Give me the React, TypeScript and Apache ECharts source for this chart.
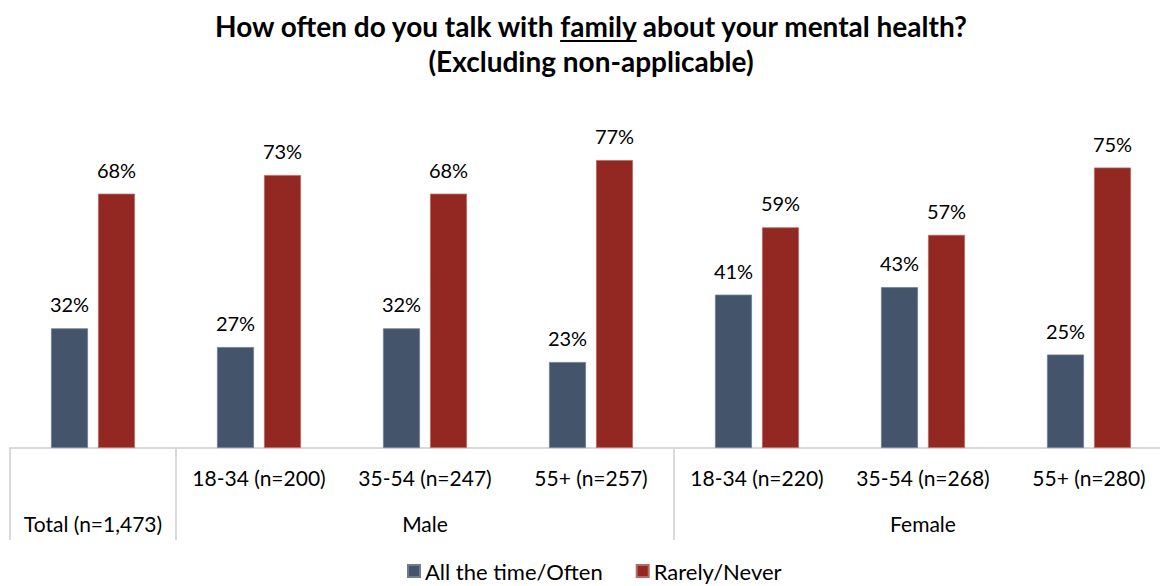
import React, { useEffect, useRef } from "react";
import * as echarts from "echarts";

const subLabels = ["", "18-34 (n=200)", "35-54 (n=247)", "55+ (n=257)", "18-34 (n=220)", "35-54 (n=268)", "55+ (n=280)"];
const groupNames = ["Total (n=1,473)", "Male", "Female"];
const groupSpans = [1, 3, 3];
const often = [32, 27, 32, 23, 41, 43, 25];
const rarely = [68, 73, 68, 77, 59, 57, 75];
const seriesNames = ["All the time/Often", "Rarely/Never"];

const FONT = "Lato";
const TITLE_PRE = "How often do you talk with ";
const TITLE_U = "family";
const TITLE_POST = " about your mental health?";
const TITLE2 = "(Excluding non-applicable)";

export default function App() {
  const ref = useRef<HTMLDivElement>(null);
  useEffect(() => {
    if (!ref.current) return;
    const chart = echarts.init(ref.current, null, { renderer: "svg" });

    const titleSize = 28;
    const cx = 591;
    const ctx = document.createElement("canvas").getContext("2d")!;
    ctx.font = `bold ${titleSize}px ${FONT}`;
    const wPre = ctx.measureText(TITLE_PRE).width;
    const wU = ctx.measureText(TITLE_U).width;
    const wPost = ctx.measureText(TITLE_POST).width;
    const total = wPre + wU + wPost;
    const x0 = cx - total / 2;
    const uX1 = x0 + wPre;
    const uX2 = uX1 + wU;

    const boundaries: number[] = [0];
    const centers: number[] = [];
    let acc = 0;
    groupSpans.forEach((s) => {
      centers.push(acc + s / 2);
      acc += s;
      boundaries.push(acc);
    });

    const axisLabelStyle = { fontFamily: FONT, fontSize: 21, color: "#000" };
    const dataLabelStyle = { fontFamily: FONT, fontSize: 20, color: "#000" };

    chart.setOption({
      animation: false,
      textStyle: { fontFamily: FONT },
      color: ["#44546A", "#922821"],
      graphic: [
        {
          type: "text",
          x: cx,
          y: 26,
          style: {
            text: TITLE_PRE + TITLE_U + TITLE_POST,
            font: `bold ${titleSize}px ${FONT}`,
            fill: "#000",
            textAlign: "center",
            textVerticalAlign: "middle",
          },
        },
        {
          type: "line",
          shape: { x1: uX1, y1: 41, x2: uX2, y2: 41 },
          style: { stroke: "#000", lineWidth: 2 },
        },
        {
          type: "text",
          x: cx,
          y: 61,
          style: {
            text: TITLE2,
            font: `bold ${titleSize}px ${FONT}`,
            fill: "#000",
            textAlign: "center",
            textVerticalAlign: "middle",
          },
        },
      ],
      legend: {
        left: 402,
        top: 555,
        itemWidth: 12,
        itemHeight: 12,
        itemGap: 33,
        icon: "rect",
        textStyle: { fontFamily: FONT, fontSize: 22, color: "#000", lineHeight: 22 },
        data: seriesNames,
      },
      grid: { left: 10, top: 74, width: 1162, height: 374, outerBoundsMode: "none", containLabel: false },
      xAxis: [
        {
          type: "category",
          data: subLabels,
          axisLine: { lineStyle: { color: "#d9d9d9", width: 2 } },
          axisTick: { show: false },
          axisLabel: { ...axisLabelStyle, margin: 19, interval: 0 },
        },
        {
          type: "value",
          min: 0,
          max: subLabels.length,
          position: "bottom",
          axisLine: { show: false },
          splitLine: { show: false },
          axisTick: {
            show: true,
            customValues: boundaries,
            length: 92,
            lineStyle: { color: "#d9d9d9", width: 2 },
          },
          axisLabel: {
            ...axisLabelStyle,
            margin: 65,
            customValues: centers,
            formatter: (v: number) => {
              const i = centers.findIndex((c) => Math.abs(c - v) < 1e-6);
              return i >= 0 ? groupNames[i] : "";
            },
          },
        },
      ],
      yAxis: {
        type: "value",
        min: 0,
        max: 100,
        show: false,
        splitLine: { show: false },
      },
      series: [
        {
          name: seriesNames[0],
          type: "bar",
          data: often,
          barWidth: 37,
          barGap: "27%",
          itemStyle: { borderColor: "#6f7d90", borderWidth: 0.8 },
          label: { show: true, position: "top", distance: 14, formatter: "{c}%", ...dataLabelStyle },
        },
        {
          name: seriesNames[1],
          type: "bar",
          data: rarely,
          barWidth: 37,
          itemStyle: { borderColor: "#b56a66", borderWidth: 0.8 },
          label: { show: true, position: "top", distance: 14, formatter: "{c}%", ...dataLabelStyle },
        },
      ],
    });
    return () => chart.dispose();
  }, []);
  return (
    <div
      ref={ref}
      style={{ position: "absolute", left: 0, top: 0, width: 1160, height: 586, background: "#fff" }}
    />
  );
}
